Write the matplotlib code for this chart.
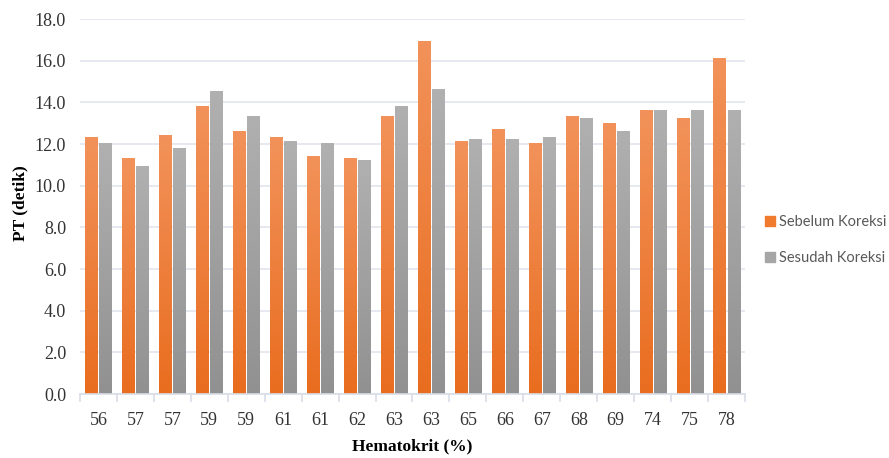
import matplotlib
matplotlib.use("Agg")
import matplotlib.pyplot as plt
import numpy as np
from matplotlib.colors import LinearSegmentedColormap
from matplotlib.patches import Patch

hematokrit = ["56", "57", "57", "59", "59", "61", "61", "62", "63",
              "63", "65", "66", "67", "68", "69", "74", "75", "78"]
sebelum = [12.3, 11.3, 12.4, 13.8, 12.6, 12.3, 11.4, 11.3, 13.3,
           16.9, 12.1, 12.7, 12.0, 13.3, 13.0, 13.6, 13.2, 16.1]
sesudah = [12.0, 10.9, 11.8, 14.5, 13.3, 12.1, 12.0, 11.2, 13.8,
           14.6, 12.2, 12.2, 12.3, 13.2, 12.6, 13.6, 13.6, 13.6]

orange_cm = LinearSegmentedColormap.from_list("o", ["#e96d1f", "#f2925a"])
gray_cm = LinearSegmentedColormap.from_list("g", ["#919191", "#b0b0b0"])

fig = plt.figure(figsize=(8.89, 4.58), dpi=100)
ax = fig.add_axes([0.09, 0.1397, 0.748, 0.8188])

x = np.arange(len(hematokrit))
w = 0.325
grad = np.linspace(0, 1, 100).reshape(-1, 1)

def grad_bars(xs, vals, cmap):
    bars = ax.bar(xs, vals, width=w, color="none", edgecolor="none", zorder=2)
    for b in bars:
        x0 = b.get_x()
        h = b.get_height()
        ax.imshow(grad, extent=(x0, x0 + w, 0, h), origin="lower",
                  cmap=cmap, aspect="auto", zorder=2)
    return bars

grad_bars(x - 0.19, sebelum, orange_cm)
grad_bars(x + 0.19, sesudah, gray_cm)

ax.set_xlim(-0.5, len(hematokrit) - 0.5)
ax.set_ylim(0, 18)
ax.set_yticks(np.arange(0, 18.1, 2))
ax.set_yticklabels(["%.1f" % v for v in np.arange(0, 18.1, 2)])
ax.set_xticks(x)
ax.set_xticklabels(hematokrit)
ax.set_xticks(np.arange(-0.5, len(hematokrit)), minor=True)

ax.grid(axis="y", color="#e1e5ee", linewidth=1.2, zorder=0)
ax.set_axisbelow(True)
for s in ["top", "right", "left"]:
    ax.spines[s].set_visible(False)
ax.spines["bottom"].set_color("#d9dde6")
ax.spines["bottom"].set_linewidth(1.2)

ax.tick_params(axis="y", length=0, pad=10, labelsize=13, labelcolor="#333333")
ax.tick_params(axis="x", which="major", length=0, pad=13, labelsize=13, labelcolor="#333333")
ax.tick_params(axis="x", which="minor", length=6, width=1.2, color="#d9dde6")
for lab in ax.get_xticklabels() + ax.get_yticklabels():
    lab.set_family("Liberation Serif")

ax.set_xlabel("Hematokrit (%)", family="Liberation Serif", fontweight="bold",
              fontsize=12.5, labelpad=7)
ax.set_ylabel("PT (detik)", family="Liberation Serif", fontweight="bold",
              fontsize=12.5)
ax.yaxis.set_label_coords(-0.078, 0.51)

handles = [Patch(color="#f07a2e"), Patch(color="#a6a6a6")]
fig.legend(handles, ["Sebelum Koreksi", "Sesudah Koreksi"],
           loc="center left", bbox_to_anchor=(0.86, 0.476), frameon=False,
           prop={"family": "Lato", "size": 10.5}, labelcolor="#595959",
           handlelength=0.7, handleheight=0.7, handletextpad=0.3,
           labelspacing=1.5, borderpad=0, borderaxespad=0)

fig.savefig("out.png", dpi=100)
